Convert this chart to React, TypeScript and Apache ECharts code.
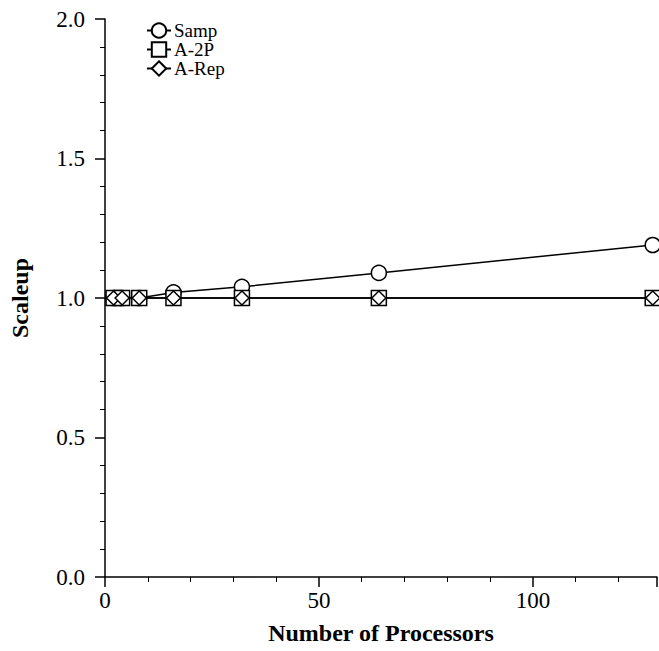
import React, { useEffect, useRef } from "react";
import * as echarts from "echarts";

const processors = [2, 4, 8, 16, 32, 64, 128];
const sampValues = [1.0, 1.0, 1.0, 1.02, 1.04, 1.09, 1.19];
const a2pValues = [1.0, 1.0, 1.0, 1.0, 1.0, 1.0, 1.0];
const aRepValues = [1.0, 1.0, 1.0, 1.0, 1.0, 1.0, 1.0];
const seriesNames = ["Samp", "A-2P", "A-Rep"];

const FONT = "'Liberation Serif', 'Times New Roman', serif";

export default function App() {
  const ref = useRef<HTMLDivElement>(null);
  useEffect(() => {
    document.body.style.margin = "0";
    const chart = echarts.init(ref.current!, null, { renderer: "svg" });
    const pts = (vals: number[]) => processors.map((p, i) => [p, vals[i]]);
    const mk = (name: string, vals: number[], symbol: string, size: number) => ({
      name,
      type: "line",
      data: pts(vals),
      symbol,
      symbolSize: size,
      showAllSymbol: true,
      lineStyle: { color: "#000", width: 1.5 },
      itemStyle: { color: "#fff", borderColor: "#000", borderWidth: 1.5 },
      emphasis: { disabled: true },
    });
    chart.setOption({
      animation: false,
      backgroundColor: "#fff",
      textStyle: { fontFamily: FONT },
      grid: { left: 105, right: 2, top: 19, bottom: 74, outerBoundsMode: "none", containLabel: false },
      legend: {
        left: 141,
        top: 16,
        orient: "vertical",
        itemGap: 0,
        itemWidth: 24,
        itemHeight: 18,
        data: seriesNames,
        textStyle: { fontFamily: FONT, fontSize: 19, color: "#000", padding: [0, 0, 0, -2] },
      },
      xAxis: {
        type: "value",
        min: 0,
        max: 129,
        interval: 50,
        name: "Number of Processors",
        nameLocation: "middle",
        nameGap: 44,
        nameTextStyle: { fontFamily: FONT, fontSize: 24, fontWeight: "bold", color: "#000" },
        axisLine: { show: true, lineStyle: { color: "#000", width: 1.5 } },
        axisTick: { show: true, length: 10, lineStyle: { color: "#000", width: 1.5 } },
        minorTick: { show: true, splitNumber: 5, length: 5, lineStyle: { color: "#000", width: 1 } },
        splitLine: { show: false },
        axisLabel: { color: "#000", fontFamily: FONT, fontSize: 23, margin: 12, showMaxLabel: false },
      },
      yAxis: {
        type: "value",
        min: 0,
        max: 2,
        interval: 0.5,
        name: "Scaleup",
        nameLocation: "middle",
        nameGap: 73,
        nameTextStyle: { fontFamily: FONT, fontSize: 24, fontWeight: "bold", color: "#000" },
        axisLine: { show: true, lineStyle: { color: "#000", width: 1.5 } },
        axisTick: { show: true, length: 10, lineStyle: { color: "#000", width: 1.5 } },
        minorTick: { show: true, splitNumber: 5, length: 5, lineStyle: { color: "#000", width: 1 } },
        splitLine: { show: false },
        axisLabel: {
          color: "#000",
          fontFamily: FONT,
          fontSize: 23,
          margin: 20,
          formatter: (v: number) => v.toFixed(1),
        },
      },
      series: [
        mk("Samp", sampValues, "circle", 15),
        mk("A-2P", a2pValues, "rect", 15),
        mk("A-Rep", aRepValues, "diamond", 14),
      ],
    });
    return () => chart.dispose();
  }, []);
  return <div ref={ref} style={{ width: 659, height: 651 }} />;
}
